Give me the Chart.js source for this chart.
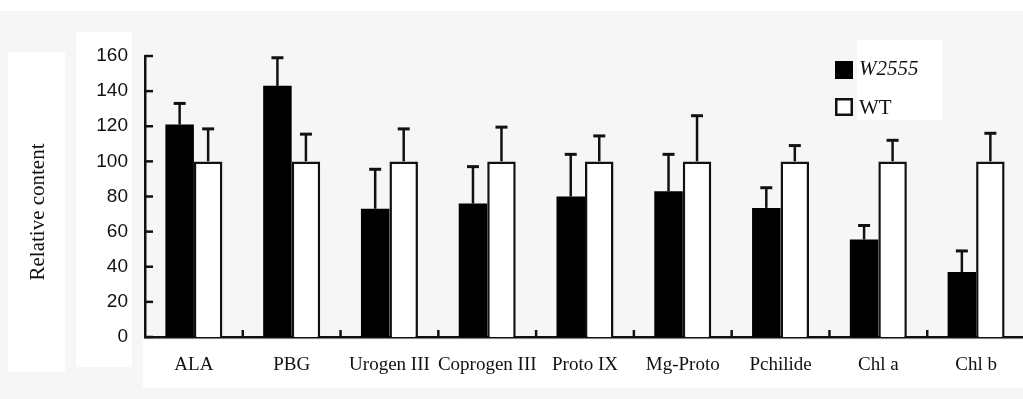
<!DOCTYPE html>
<html>
<head>
<meta charset="utf-8">
<script src="https://cdn.jsdelivr.net/npm/chart.js@4.4.0/dist/chart.umd.min.js"></script>
<style>
  html, body { margin: 0; padding: 0; background: #f6f6f6; overflow: hidden; }
  #wrap { position: relative; width: 1023px; height: 399px; overflow: hidden; }
  .patch { position: absolute; background: #fff; }
  canvas { position: absolute; left: 0; top: 0; }
</style>
</head>
<body>
<div id="wrap">
  <!-- scan-like white patches behind the chart -->
  <div class="patch" style="left:0;top:0;width:1023px;height:11px"></div>
  <div class="patch" style="left:8px;top:52px;width:57px;height:320px"></div>
  <div class="patch" style="left:76px;top:32px;width:56px;height:335px"></div>
  <div class="patch" style="left:143px;top:340px;width:880px;height:48px"></div>
  <div class="patch" style="left:857px;top:40px;width:85px;height:80px"></div>
  <canvas id="chart" width="1040" height="399" style="width:1040px;height:399px"></canvas>
</div>
<script>
// Données
const categories = ["ALA", "PBG", "Urogen III", "Coprogen III", "Proto IX", "Mg-Proto", "Pchilide", "Chl a", "Chl b"];
const mutantValues = [121, 143, 73, 76, 80, 83, 73.5, 55.5, 37];
const mutantErrors = [12, 16, 22.5, 21, 24, 21, 11.5, 8, 12];
const wtValues = [100, 100, 100, 100, 100, 100, 100, 100, 100];
const wtErrors = [18.5, 15.5, 18.5, 19.5, 14.5, 26, 9, 12, 16];
const yMin = 0, yMax = 160, yStep = 20;
const yTitle = "Relative content";

const INK = "#111";

// Barres d'erreur (partie haute seulement)
const errorBars = {
  id: "errorBars",
  afterDatasetsDraw(chart) {
    const ctx = chart.ctx;
    const y = chart.scales.y;
    ctx.save();
    ctx.strokeStyle = INK;
    chart.data.datasets.forEach((ds, i) => {
      const meta = chart.getDatasetMeta(i);
      meta.data.forEach((bar, j) => {
        const top = y.getPixelForValue(ds.data[j] + ds.errors[j]);
        ctx.lineWidth = 2.5;
        ctx.beginPath();
        ctx.moveTo(bar.x, bar.y);
        ctx.lineTo(bar.x, top);
        ctx.stroke();
        ctx.lineWidth = 3;
        ctx.beginPath();
        ctx.moveTo(bar.x - 6, top);
        ctx.lineTo(bar.x + 6, top);
        ctx.stroke();
      });
    });
    ctx.restore();
  }
};

// Graduations vers l'intérieur + titre de l'axe Y + légende
const decorations = {
  id: "decorations",
  afterDraw(chart) {
    const ctx = chart.ctx;
    const area = chart.chartArea;
    const x = chart.scales.x;
    const y = chart.scales.y;
    ctx.save();
    ctx.strokeStyle = INK;
    ctx.lineWidth = 2.5;
    y.ticks.forEach(t => {
      const py = y.getPixelForValue(t.value);
      ctx.beginPath();
      ctx.moveTo(area.left, py);
      ctx.lineTo(area.left + 8, py);
      ctx.stroke();
    });
    for (let i = 1; i < categories.length + 1; i++) {
      const px = i < categories.length
        ? (x.getPixelForTick(i - 1) + x.getPixelForTick(i)) / 2
        : area.right;
      ctx.beginPath();
      ctx.moveTo(px, area.bottom);
      ctx.lineTo(px, area.bottom - 7);
      ctx.stroke();
    }

    // titre Y
    ctx.fillStyle = INK;
    ctx.font = "21px 'Liberation Serif', 'Times New Roman', serif";
    ctx.translate(38, 212);
    ctx.rotate(-Math.PI / 2);
    ctx.textAlign = "center";
    ctx.textBaseline = "middle";
    ctx.fillText(yTitle, 0, 0);
    ctx.setTransform(1, 0, 0, 1, 0, 0);

    // légende
    ctx.textAlign = "left";
    ctx.textBaseline = "middle";
    chart.data.datasets.forEach((ds, i) => {
      const bx = 835, by = 61 + i * 37;
      if (ds.backgroundColor === "#000") {
        ctx.fillStyle = "#000";
        ctx.fillRect(bx, by, 18, 18);
      } else {
        ctx.fillStyle = "#fff";
        ctx.fillRect(bx, by, 18, 18);
        ctx.lineWidth = 2.5;
        ctx.strokeRect(bx + 1.25, by + 1.25, 15.5, 15.5);
      }
      ctx.fillStyle = INK;
      ctx.font = (ds.italic ? "italic " : "") + "21px 'Liberation Serif', 'Times New Roman', serif";
      ctx.fillText(ds.label, bx + 24, by + (ds.italic ? 8 : 10));
    });
    ctx.restore();
  }
};

const ctx = document.getElementById("chart").getContext("2d");
new Chart(ctx, {
  type: "bar",
  data: {
    labels: categories,
    datasets: [
      {
        label: "W2555",
        italic: true,
        data: mutantValues,
        errors: mutantErrors,
        backgroundColor: "#000",
        borderWidth: 0
      },
      {
        label: "WT",
        italic: false,
        data: wtValues,
        errors: wtErrors,
        backgroundColor: "#fff",
        borderColor: INK,
        borderWidth: 2.5
      }
    ]
  },
  options: {
    responsive: false,
    devicePixelRatio: 1,
    animation: false,
    layout: { padding: { top: 56, right: 15, bottom: 0, left: 0 } },
    datasets: {
      bar: { categoryPercentage: 0.583, barPercentage: 1 }
    },
    plugins: {
      legend: { display: false },
      tooltip: { enabled: false }
    },
    scales: {
      x: {
        grid: { display: false, drawTicks: false },
        border: { display: true, color: INK, width: 2.5 },
        ticks: {
          color: INK,
          autoSkip: false,
          maxRotation: 0,
          padding: 17,
          font: { family: "'Liberation Serif', 'Times New Roman', serif", size: 19 }
        },
        afterFit: s => { s.height = 62; }
      },
      y: {
        min: yMin,
        max: yMax,
        grid: { display: false, drawTicks: false },
        border: { display: true, color: INK, width: 2.5 },
        ticks: {
          stepSize: yStep,
          color: INK,
          padding: 17,
          font: { family: "'Liberation Sans', Arial, sans-serif", size: 19 }
        },
        afterFit: s => { s.width = 145; }
      }
    }
  },
  plugins: [errorBars, decorations]
});
</script>
</body>
</html>
